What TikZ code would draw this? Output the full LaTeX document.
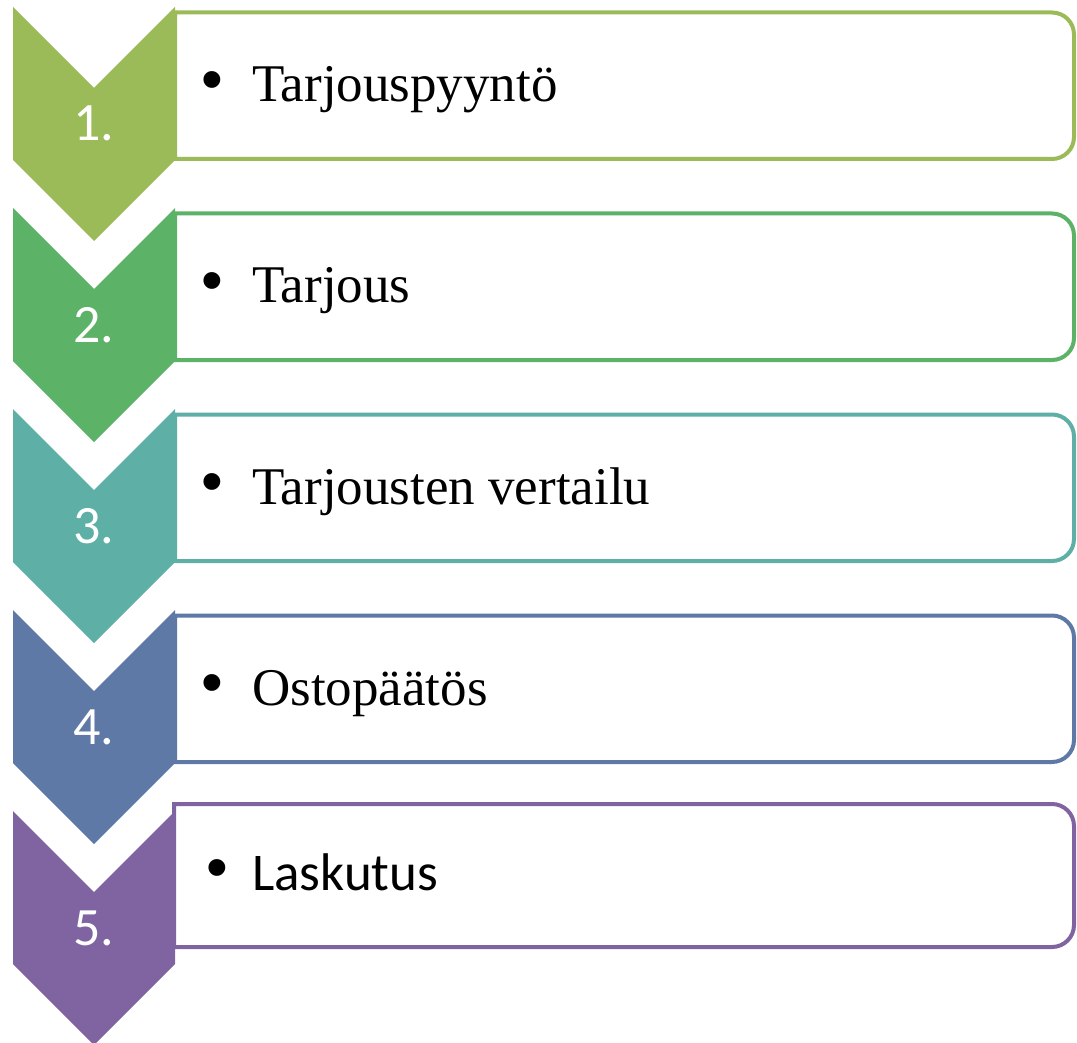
\documentclass[tikz,border=0pt]{standalone}
\usepackage{fontspec}
\setmainfont{Liberation Serif}
\newfontfamily\calib{Carlito}
\newfontfamily\bulfont{Liberation Sans}
\definecolor{cA}{HTML}{9BBB59}
\definecolor{cB}{HTML}{5CB266}
\definecolor{cC}{HTML}{5EB0A6}
\definecolor{cD}{HTML}{5F79A7}
\definecolor{cE}{HTML}{8064A2}
\tikzset{
  chev/.style={fill=#1, draw=none},
  boxline/.style={draw=#1, line width=4pt, fill=white},
  num/.style={text=white, font=\calib\fontsize{54}{60}\selectfont, inner sep=0pt, anchor=base},
  item/.style={font=\fontsize{53}{58}\selectfont, inner sep=0pt, anchor=base west},
  itemsans/.style={font=\calib\fontsize{53}{58}\selectfont, inner sep=0pt, anchor=base west},
  bul/.style={font=\bulfont\fontsize{62}{66}\selectfont, inner sep=0pt, anchor=center},
}
\begin{document}
\begin{tikzpicture}[x=1pt,y=-1pt]
\useasboundingbox (0,0) rectangle (1077,1043);
% boxes
\foreach \i/\c in {0/cA,1/cB,2/cC,3/cD}{
  \pgfmathsetmacro{\t}{12.5+201*\i}
  \pgfmathsetmacro{\b}{159+201*\i}
  \draw[boxline=\c] (175,\t) [rounded corners=22pt] -- (1074,\t) -- (1074,\b) [sharp corners] -- (175,\b) -- cycle;
}
\draw[boxline=cE] (174,804) [rounded corners=22pt] -- (1074,804) -- (1074,947) [sharp corners] -- (174,947) -- cycle;
% chevrons
\foreach \i/\c in {0/cA,1/cB,2/cC,3/cD,4/cE}{
  \pgfmathsetmacro{\T}{7+201*\i}
  \fill[chev=\c] (13,\T) -- (94,\T+81) -- (175,\T) -- (175,\T+153) -- (94,\T+234) -- (13,\T+153) -- cycle;
}
% numbers
\node[num] (n1) at (94,141) {1.};
\node[num] (n2) at (94,342) {2.};
\node[num] (n3) at (94,543) {3.};
\node[num] (n4) at (94,744) {4.};
\node[num] (n5) at (94,945) {5.};
% bullets and texts
\node[bul] (b1) at (212,86) {•};
\node[item] (t1) at (252,102) {Tarjouspyyntö};
\node[bul] (b2) at (212,287) {•};
\node[item] (t2) at (252,303) {Tarjous};
\node[bul] (b3) at (212,488) {•};
\node[item] (t3) at (252,504) {Tarjousten vertailu};
\node[bul] (b4) at (212,689) {•};
\node[item] (t4) at (252,705) {Ostopäätös};
\node[bul] (b5) at (217,874) {•};
\node[itemsans] (t5) at (252,890) {Laskutus};
\end{tikzpicture}
\end{document}
